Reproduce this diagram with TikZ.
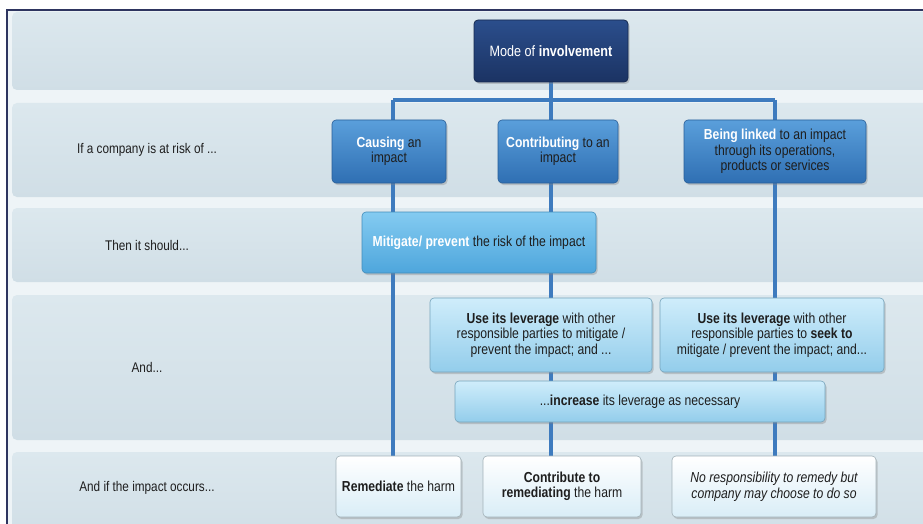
\documentclass[tikz,border=0pt]{standalone}
\usepackage{fontspec}
\setmainfont{Liberation Sans}[FakeStretch=0.84]
\usetikzlibrary{shadows,calc}
\definecolor{navyA}{HTML}{2B4E8C}
\definecolor{navyB}{HTML}{1B3363}
\definecolor{midA}{HTML}{5A9FDB}
\definecolor{midB}{HTML}{2F6FB3}
\definecolor{litA}{HTML}{84CBF1}
\definecolor{litB}{HTML}{4EA6DC}
\definecolor{palA}{HTML}{CFEDFB}
\definecolor{palB}{HTML}{93CDEB}
\definecolor{whA}{HTML}{FFFFFF}
\definecolor{whB}{HTML}{D9EDF7}
\definecolor{bandA}{HTML}{DCE8EE}
\definecolor{bandB}{HTML}{D0DEE6}
\definecolor{gapc}{HTML}{EEF4F7}
\definecolor{framec}{HTML}{2E3560}
\definecolor{connc}{HTML}{3E7BBE}
\definecolor{txt}{HTML}{1E1E1E}
\pgfdeclarelayer{bands}
\pgfdeclarelayer{background}
\pgfsetlayers{bands,background,main}
\tikzset{
  box/.style={rounded corners=4pt, align=center, inner sep=2pt, text=txt,
    font=\fontsize{14.5}{15.5}\selectfont,
    drop shadow={opacity=0.35, shadow xshift=1.5pt, shadow yshift=-2pt}},
  navybox/.style={box, top color=navyA, bottom color=navyB, draw=navyB!80!black, line width=0.8pt, text=white, font=\fontsize{15}{17}\selectfont},
  midbox/.style={box, top color=midA, bottom color=midB, draw=midB!85!black, line width=0.6pt},
  litbox/.style={box, top color=litA, bottom color=litB, draw=litB!85!black, line width=0.6pt},
  palbox/.style={box, top color=palA, bottom color=palB, draw=palB!80!black, line width=0.6pt},
  whbox/.style={box, top color=whA, bottom color=whB, draw=whB!75!black, line width=0.6pt},
  band/.style={rounded corners=5pt, top color=bandA, bottom color=bandB, draw=none},
  rowlabel/.style={text=txt, font=\fontsize{14}{16}\selectfont},
  conn/.style={draw=connc, line width=3.2pt}
}
\newcommand{\wb}[1]{\textcolor{white}{\textbf{#1}}}
\begin{document}
\begin{tikzpicture}[x=1pt,y=-1pt]
\useasboundingbox (0,0) rectangle (923,524);
% frame and bands
\begin{pgfonlayer}{bands}
\fill[white] (0,0) rectangle (923,524);
\fill[gapc] (7,10) rectangle (923,524);
\path[band] (12,12) rectangle (935,90);
\path[band] (12,103) rectangle (935,197);
\path[band] (12,208) rectangle (935,282);
\path[band] (12,295) rectangle (935,440);
\path[band] (12,452) rectangle (935,540);
\draw[framec, line width=2pt] (7,524) -- (7,10) -- (923,10);
\end{pgfonlayer}
% row labels
\node[rowlabel] (r1) at (147,150) {If a company is at risk of ...};
\node[rowlabel] (r2) at (147,245) {Then it should...};
\node[rowlabel] (r3) at (147,367) {And...};
\node[rowlabel] (r4) at (147,488) {And if the impact occurs...};
% boxes
\node[navybox, minimum width=154pt, minimum height=62pt] (mode) at (551,51) {Mode of \textbf{involvement}};
\node[midbox, minimum width=114pt, minimum height=63pt] (cause) at (389,151.5) {\wb{Causing} an\\impact};
\node[midbox, minimum width=120pt, minimum height=63pt] (contrib) at (558,151.5) {\wb{Contributing} to an\\impact};
\node[midbox, minimum width=182pt, minimum height=63pt] (link) at (775,151.5) {\wb{Being linked} to an impact\\through its operations,\\products or services};
\node[litbox, minimum width=234pt, minimum height=61pt] (mitig) at (479,242.5) {\wb{Mitigate/ prevent} the risk of the impact};
\node[palbox, minimum width=222pt, minimum height=74pt] (use1) at (541,335) {\textbf{Use its leverage} with other\\responsible parties to mitigate /\\prevent the impact; and ...};
\node[palbox, minimum width=224pt, minimum height=74pt] (use2) at (772,335) {\textbf{Use its leverage} with other\\responsible parties to \textbf{seek to}\\mitigate / prevent the impact; and...};
\node[palbox, minimum width=370pt, minimum height=41pt] (incr) at (640,401.5) {...\textbf{increase} its leverage as necessary};
\node[whbox, minimum width=125pt, minimum height=61pt] (remed) at (398.5,486.5) {\textbf{Remediate} the harm};
\node[whbox, minimum width=158pt, minimum height=61pt] (contr2) at (562,486.5) {\textbf{Contribute to}\\\textbf{remediating} the harm};
\node[whbox, minimum width=204pt, minimum height=61pt] (nore) at (774,486.5) {\itshape No responsibility to remedy but\\\itshape company may choose to do so};
% connectors
\coordinate (xa) at (393,100);
\coordinate (xb) at (551,100);
\coordinate (xc) at (775,100);
\begin{pgfonlayer}{background}
\draw[conn] (mode.south) -- (xb);
\draw[conn] (xa) -- (xc);
\draw[conn] (xa) -- (xa |- remed.north);
\draw[conn] (xb) -- (xb |- contr2.north);
\draw[conn] (xc) -- (xc |- nore.north);
\end{pgfonlayer}
\end{tikzpicture}
\end{document}
